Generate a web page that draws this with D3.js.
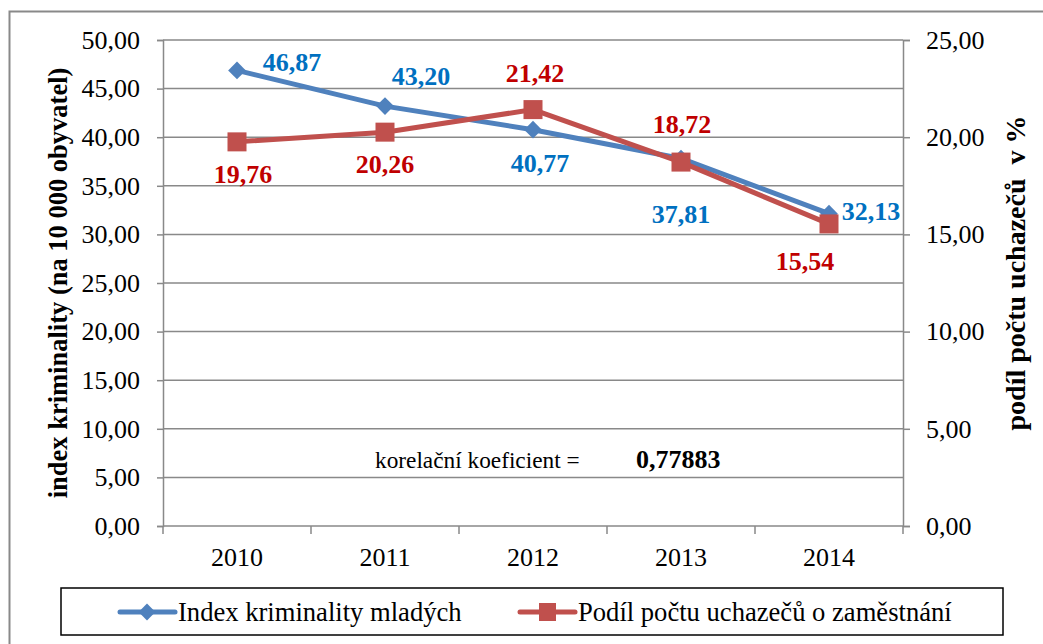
<!DOCTYPE html>
<html><head><meta charset="utf-8">
<script src="https://cdn.jsdelivr.net/npm/d3@7"></script>
<style>body{margin:0;background:#fff}svg{display:block}</style>
</head><body>
<svg id="c" width="1043" height="644"></svg>
<script>
const years = ["2010","2011","2012","2013","2014"];
const crime = [46.87, 43.20, 40.77, 37.81, 32.13];
const unemp = [19.76, 20.26, 21.42, 18.72, 15.54];
const leftTicks = [0,5,10,15,20,25,30,35,40,45,50];
const rightTicks = [0,5,10,15,20,25];
const crimeName = "Index kriminality mladých";
const unempName = "Podíl počtu uchazečů o zaměstnání";
const leftTitle = "index kriminality (na 10 000 obyvatel)";
const rightTitle = "podíl počtu uchazečů  v %";
const corrLabel = "korelační koeficient =";
const corrValue = "0,77883";
// label placement offsets [dx, dy] per point
const crimeLabelPos = [[55,-8],[36,-30],[7,33],[0,56],[42,-3]];
const unempLabelPos = [[6,32],[0,32],[2,-37],[1,-38],[-24,37]];

const FONT = '"Liberation Serif"';
const svg = d3.select("#c");
const L = 163, R = 903, T = 40, B = 526;
const fmt = v => d3.format(".2f")(v).replace(".", ",");
const x = d3.scaleBand().domain(years).range([L, R]);
const yL = d3.scaleLinear().domain([0,50]).range([B, T]);
const yR = d3.scaleLinear().domain([0,25]).range([B, T]);
const grey = "#898989";
const txt = (sel, size, bold) => sel.style("font-family", FONT).style("font-size", size + "px")
  .style("font-weight", bold ? "bold" : "normal");

// outer frame
svg.append("rect").attr("x",9.5).attr("y",11.5).attr("width",1100).attr("height",700)
  .attr("fill","none").attr("stroke",grey).attr("stroke-width",2);

// gridlines
svg.append("g").selectAll("line").data(leftTicks.filter(d=>d>0)).join("line")
  .attr("x1",L).attr("x2",R).attr("y1",d=>yL(d)).attr("y2",d=>yL(d))
  .attr("stroke",grey).attr("stroke-width",1.5);

// left axis
const gl = svg.append("g").attr("transform",`translate(${L},0)`)
  .call(d3.axisLeft(yL).tickValues(leftTicks).tickFormat(fmt).tickSize(6).tickPadding(17));
// right axis
const gr = svg.append("g").attr("transform",`translate(${R},0)`)
  .call(d3.axisRight(yR).tickValues(rightTicks).tickFormat(fmt).tickSize(7).tickPadding(16));
// bottom axis
const gb = svg.append("g").attr("transform",`translate(0,${B})`)
  .call(d3.axisBottom(x).tickSize(0).tickPadding(21.5));
// category ticks between bands
svg.append("g").selectAll("line").data(d3.range(years.length+1)).join("line")
  .attr("x1",i=>L+i*x.step()).attr("x2",i=>L+i*x.step()).attr("y1",B).attr("y2",B+8)
  .attr("stroke",grey).attr("stroke-width",1.5);
[gl,gr,gb].forEach(g=>{
  g.attr("font-family", null).attr("font-size", null);
  g.selectAll(".domain").attr("stroke",grey).attr("stroke-width",1.5);
  g.selectAll(".tick line").attr("stroke",grey).attr("stroke-width",1.5);
  txt(g.selectAll("text").attr("fill","#000"), 26, false);
});
gb.selectAll(".domain").attr("d",`M${L},0H${R}`);

// axis titles
txt(svg.append("text").attr("transform",`translate(67,283) rotate(-90)`)
  .attr("text-anchor","middle"), 26.5, true).text(leftTitle);
txt(svg.append("text").attr("transform",`translate(1025,273) rotate(-90)`)
  .attr("text-anchor","middle").style("white-space","pre"), 28, true).text(rightTitle);

const cx = d => x(d) + x.bandwidth()/2;
const blue = "#4f81bd", red = "#c0504d";

// lines
svg.append("path").datum(crime).attr("fill","none").attr("stroke",blue).attr("stroke-width",5)
  .attr("d", d3.line().x((d,i)=>cx(years[i])).y(d=>yL(d)));
svg.append("path").datum(unemp).attr("fill","none").attr("stroke",red).attr("stroke-width",5)
  .attr("d", d3.line().x((d,i)=>cx(years[i])).y(d=>yR(d)));

// markers
svg.append("g").selectAll("path").data(crime).join("path")
  .attr("transform",(d,i)=>`translate(${cx(years[i])},${yL(d)})`)
  .attr("d", d3.symbol().type(d3.symbolDiamond2).size(200)).attr("fill",blue);
svg.append("g").selectAll("rect").data(unemp).join("rect")
  .attr("x",(d,i)=>cx(years[i])-9.5).attr("y",d=>yR(d)-9.5).attr("width",19).attr("height",19)
  .attr("fill",red);

// data labels
txt(svg.append("g").selectAll("text").data(crime).join("text")
  .attr("x",(d,i)=>cx(years[i])+crimeLabelPos[i][0]).attr("y",(d,i)=>yL(d)+crimeLabelPos[i][1]+9)
  .attr("text-anchor","middle").attr("fill","#0070c0"), 26, true)
  .text(fmt);
txt(svg.append("g").selectAll("text").data(unemp).join("text")
  .attr("x",(d,i)=>cx(years[i])+unempLabelPos[i][0]).attr("y",(d,i)=>yR(d)+unempLabelPos[i][1]+9)
  .attr("text-anchor","middle").attr("fill","#c00000"), 26, true)
  .text(fmt);

// correlation
txt(svg.append("text").attr("x",375).attr("y",468), 23.3, false).text(corrLabel);
txt(svg.append("text").attr("x",636).attr("y",468), 26, true).text(corrValue);

// legend
svg.append("rect").attr("x",61).attr("y",588).attr("width",942).attr("height",47)
  .attr("fill","#fff").attr("stroke","#000").attr("stroke-width",1.5);
const lg = svg.append("g");
lg.append("line").attr("x1",120).attr("x2",175).attr("y1",612).attr("y2",612).attr("stroke",blue).attr("stroke-width",5).attr("stroke-linecap","round");
lg.append("path").attr("transform","translate(147,612)").attr("d",d3.symbol().type(d3.symbolDiamond2).size(180)).attr("fill",blue);
txt(lg.append("text").attr("x",178).attr("y",621), 26.6, false).text(crimeName);
lg.append("line").attr("x1",520).attr("x2",575).attr("y1",612).attr("y2",612).attr("stroke",red).attr("stroke-width",5).attr("stroke-linecap","round");
lg.append("rect").attr("x",539).attr("y",603).attr("width",17).attr("height",18).attr("fill",red);
txt(lg.append("text").attr("x",578).attr("y",621), 26.6, false).text(unempName);
</script>
</body></html>
